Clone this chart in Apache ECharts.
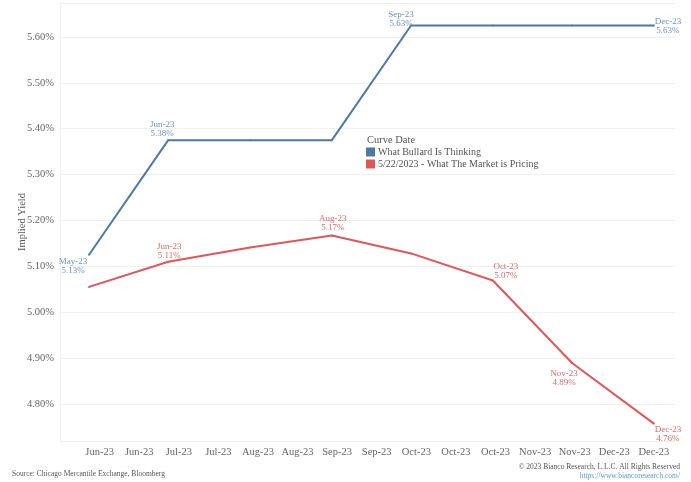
<!DOCTYPE html>
<html>
<head>
<meta charset="utf-8">
<script src="https://cdn.jsdelivr.net/npm/echarts@6/dist/echarts.min.js"></script>
<style>
html,body{margin:0;padding:0;background:#fff;}
#chart{width:691px;height:482px;}
</style>
</head>
<body>
<div id="chart"></div>
<script>
// ---- data ----
const pointMonths = ['May-23','Jun-23','Jul-23','Aug-23','Sep-23','Oct-23','Nov-23','Dec-23'];
const pointDates = ['2023-05-31','2023-06-30','2023-07-31','2023-08-31','2023-09-30','2023-10-31','2023-11-30','2023-12-31'];
const bullardValues = [5.125, 5.375, 5.375, 5.375, 5.625, 5.625, 5.625, 5.625];
const marketValues = [5.055, 5.11, 5.141, 5.167, 5.128, 5.069, 4.889, 4.757];
const xTickLabels = ['Jun-23','Jun-23','Jul-23','Jul-23','Aug-23','Aug-23','Sep-23','Sep-23','Oct-23','Oct-23','Oct-23','Nov-23','Nov-23','Dec-23','Dec-23'];
const seriesNames = ['What Bullard Is Thinking', '5/22/2023 - What The Market is Pricing'];
const axisOrigin = '2023-05-20';

// ---- styles (label placements keyed by point index) ----
const bullardLabelPos = {0: [-15, 12], 1: [-5, -10], 4: [-9, -5], 7: [15, 2]};
const marketLabelPos = {1: [2, -10], 3: [2, -11], 5: [14, -8], 6: [-7, 16], 7: [15, 12]};
const FONT = 'Liberation Serif';
const BLUE = '#4e79a7', RED = '#e15759';
const BLUE_LBL = '#6f90ba', RED_LBL = '#d76a6c';

const dayOf = d => (Date.parse(d) - Date.parse(axisOrigin)) / 864e5;

function buildData(values, posMap, lblColor) {
  return values.map((v, i) => {
    const item = {value: [dayOf(pointDates[i]), v]};
    if (posMap[i]) {
      item.label = {
        show: true, position: posMap[i], align: 'center', verticalAlign: 'middle',
        color: lblColor, fontSize: 9, lineHeight: 9, fontFamily: FONT,
        formatter: () => pointMonths[i] + '\n' + v.toFixed(2) + '%'
      };
    }
    return item;
  });
}

const chart = echarts.init(document.getElementById('chart'), null, {renderer: 'canvas'});
chart.setOption({
  backgroundColor: '#fff',
  animation: false,
  textStyle: {fontFamily: FONT},
  grid: {left: 60, right: 16, top: 3, bottom: 41, containLabel: false,
         outerBoundsMode: 'none', show: false},
  title: {text: 'Curve Date', left: 362, top: 130,
          textStyle: {fontFamily: FONT, fontSize: 10.5, fontWeight: 'normal', color: '#555'}},
  legend: {
    orient: 'vertical', left: 361, top: 142, itemWidth: 9, itemHeight: 9, itemGap: 2,
    icon: 'rect', data: seriesNames,
    textStyle: {fontFamily: FONT, fontSize: 10, color: '#555', padding: [0, 0, 0, -2]}
  },
  xAxis: {
    type: 'value', min: 0, max: 233, interval: 15,
    axisLine: {show: false}, axisTick: {show: false}, splitLine: {show: false},
    axisLabel: {
      color: '#666', fontSize: 10.5, fontFamily: FONT, margin: 6,
      showMinLabel: true, showMaxLabel: true,
      formatter: v => {
        const k = Math.round(v / 15);
        if (Math.abs(v - k * 15) > 1e-6 || k < 1 || k > xTickLabels.length) return '';
        return xTickLabels[k - 1];
      }
    }
  },
  yAxis: {
    type: 'value', min: 4.719, max: 5.674, splitNumber: 9,
    name: 'Implied Yield', nameLocation: 'middle', nameRotate: 90, nameGap: 32,
    nameMoveOverlap: false,
    nameTextStyle: {fontFamily: FONT, fontSize: 10.5, color: '#555'},
    axisLine: {show: true, lineStyle: {color: '#f0f0f0'}}, axisTick: {show: false},
    splitLine: {lineStyle: {color: '#f0f0f0', width: 1}},
    axisLabel: {
      color: '#666', fontSize: 10.5, fontFamily: FONT, margin: 6,
      formatter: v => Math.abs(v * 10 - Math.round(v * 10)) < 1e-6 ? v.toFixed(2) + '%' : ''
    }
  },
  series: [
    {name: seriesNames[0], type: 'line', data: buildData(bullardValues, bullardLabelPos, BLUE_LBL),
     color: BLUE, lineStyle: {width: 2, color: BLUE}, symbol: 'circle', symbolSize: 2,
     itemStyle: {color: BLUE}, z: 3},
    {name: seriesNames[1], type: 'line', data: buildData(marketValues, marketLabelPos, RED_LBL),
     color: RED, lineStyle: {width: 2, color: RED}, symbol: 'circle', symbolSize: 2,
     itemStyle: {color: RED}, z: 2}
  ],
  graphic: [
    {type: 'text', left: 12, top: 470,
     style: {text: 'Source: Chicago Mercantile Exchange, Bloomberg', fill: '#555', fontSize: 7.5, fontFamily: FONT}},
    {type: 'text', right: 11, top: 463,
     style: {text: '\u00a9 2023 Bianco Research, L.L.C. All Rights Reserved', fill: '#555', fontSize: 7.5, fontFamily: FONT}},
    {type: 'text', right: 11, top: 472,
     style: {text: 'https://www.biancoresearch.com/', fill: '#5aa0c8', fontSize: 7.5, fontFamily: FONT}}
  ]
});
</script>
</body>
</html>
